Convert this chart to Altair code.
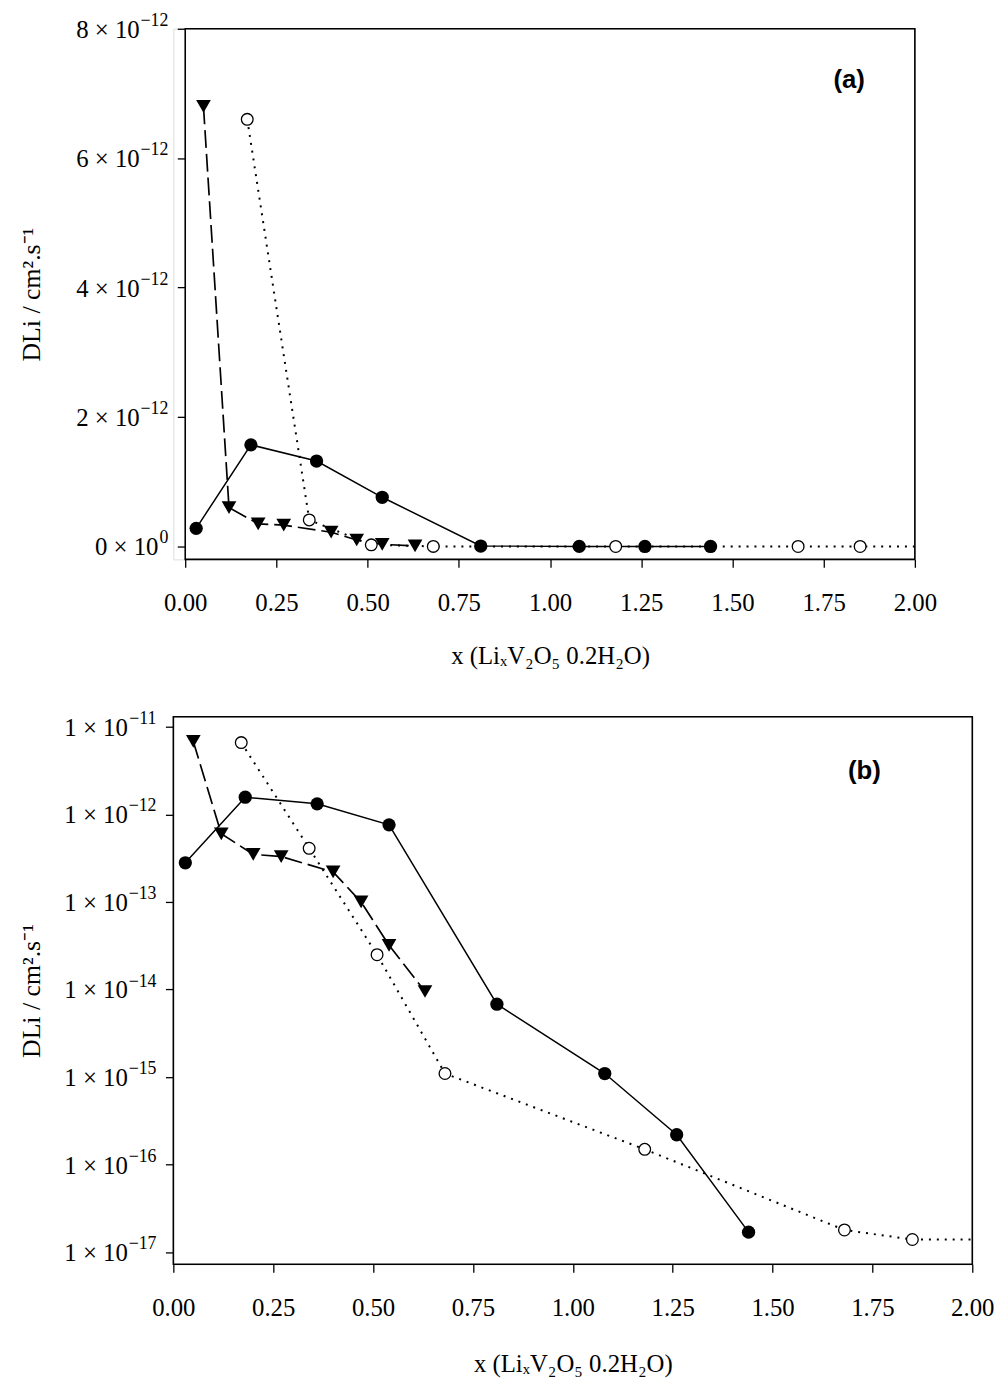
import altair as alt
import pandas as pd

# ---------------- data ----------------
X_FILLED = [0.03, 0.18, 0.36, 0.54, 0.81, 1.08, 1.26, 1.44]
Y_FILLED = [2.8e-13, 1.57e-12, 1.32e-12, 7.6e-13, 6.8e-15, 1.1e-15, 2.2e-16, 1.7e-17]

X_TRI = [0.05, 0.12, 0.20, 0.27, 0.40, 0.47, 0.54, 0.63]
Y_TRI = [6.8e-12, 6.0e-13, 3.5e-13, 3.3e-13, 2.2e-13, 1.0e-13, 3.2e-14, 9.5e-15]

X_OPEN = [0.17, 0.34, 0.51, 0.68, 1.18, 1.68, 1.85]
Y_OPEN = [6.6e-12, 4.1e-13, 2.5e-14, 1.1e-15, 1.5e-16, 1.8e-17, 1.4e-17]
# dotted line continues to the frame edge (no marker)
X_OPEN_END = [2.0]
Y_OPEN_END = [1.4e-17]

X_TICKS = [0, 0.25, 0.5, 0.75, 1.0, 1.25, 1.5, 1.75, 2.0]

A_Y_TICKS = [0, 2e-12, 4e-12, 6e-12, 8e-12]
A_Y_MAIN = ["0 × 10", "2 × 10", "4 × 10", "6 × 10", "8 × 10"]
A_Y_SUP = ["0", "−12", "−12", "−12", "−12"]

B_Y_TICKS = [1e-11, 1e-12, 1e-13, 1e-14, 1e-15, 1e-16, 1e-17]
B_Y_MAIN = ["1 × 10"] * 7
B_Y_SUP = ["−11", "−12", "−13", "−14", "−15", "−16", "−17"]

Y_TITLE = "DLi / cm².s⁻¹"
X_TITLE = "x (LiₓV₂O₅ 0.2H₂O)"

A_X_DOMAIN = [-0.0326, 2.0]
A_Y_DOMAIN = [-0.2e-12, 8e-12]
B_X_DOMAIN = [0.0, 2.0]
B_Y_DOMAIN = [7.3e-18, 1.3e-11]

SERIF = "Liberation Serif"
LABEL_FS = 25
SUP_FS = 18
TICK = 8
GAP = 9


def sup_width(s):
    return (0.564 * s.count("−") + 0.5 * (len(s) - s.count("−"))) * SUP_FS


filled = pd.DataFrame({"x": X_FILLED, "y": Y_FILLED})
tri = pd.DataFrame({"x": X_TRI, "y": Y_TRI})
opn = pd.DataFrame({"x": X_OPEN, "y": Y_OPEN})
opn_line = pd.DataFrame({"x": X_OPEN + X_OPEN_END, "y": Y_OPEN + Y_OPEN_END})


def panel(xdom, ydom, log, width, height, yticks, ymains, ysups, axis_px,
          ytitle_x, xtitle_x, xtitle_y, letter, letter_xy):
    xs = alt.Scale(domain=xdom, nice=False, zero=False)
    if log:
        ys = alt.Scale(type="log", domain=ydom, nice=False)
    else:
        ys = alt.Scale(domain=ydom, nice=False, zero=False)

    xaxis = alt.Axis(values=X_TICKS, format=".2f", title=X_TITLE, domain=False,
                     grid=False, tickSize=TICK, tickWidth=1.3, tickColor="black",
                     labelFont=SERIF, labelFontSize=LABEL_FS, labelColor="black",
                     labelPadding=24, labelFlush=False,
                     titleFont=SERIF, titleFontSize=25, titleFontWeight="normal",
                     titleColor="black", titleX=xtitle_x, titleY=xtitle_y,
                     titleAlign="center", titleBaseline="middle")
    yaxis = alt.Axis(values=yticks, labels=False,
                     title=Y_TITLE, domain=False, grid=False, tickSize=TICK,
                     tickWidth=1.3, tickColor="black", offset=-axis_px,
                     titleFont=SERIF, titleFontSize=26, titleFontWeight="normal",
                     titleColor="black", titleX=ytitle_x, titleAngle=270,
                     titleAlign="center", titleBaseline="middle")

    x = alt.X("x:Q", scale=xs, axis=xaxis)
    y = alt.Y("y:Q", scale=ys, axis=yaxis)
    x_n = alt.X("x:Q", scale=xs)
    y_n = alt.Y("y:Q", scale=ys)

    frame_df = pd.DataFrame({"x": [0.0], "x2": [2.0],
                             "y": [ydom[0]], "y2": [ydom[1]]})
    frame = alt.Chart(frame_df).mark_rect(
        fill="white", fillOpacity=0, stroke="black", strokeWidth=1.6
    ).encode(x=x, x2="x2:Q", y=y, y2="y2:Q")

    # tick labels: "n × 10" plus a raised exponent, right-aligned as a unit
    label_right = axis_px - TICK - GAP
    sup_df = pd.DataFrame({"y": yticks, "s": ysups})
    layers = [frame]
    layers.append(alt.Chart(sup_df).mark_text(
        font=SERIF, fontSize=SUP_FS, align="right", baseline="middle", dy=-8,
        color="black"
    ).encode(x=alt.value(label_right), y=y_n, text="s:N"))
    groups = {}
    for t, m, s in zip(yticks, ymains, ysups):
        groups.setdefault(round(sup_width(s)), []).append((t, m))
    for w, items in groups.items():
        mdf = pd.DataFrame({"y": [i[0] for i in items], "m": [i[1] for i in items]})
        layers.append(alt.Chart(mdf).mark_text(
            font=SERIF, fontSize=LABEL_FS, align="right", baseline="middle", dy=1,
            color="black"
        ).encode(x=alt.value(label_right - w - 1), y=y_n, text="m:N"))

    l_filled = alt.Chart(filled).mark_line(color="black", strokeWidth=1.5).encode(x=x_n, y=y_n)
    l_tri = alt.Chart(tri).mark_line(color="black", strokeWidth=1.7,
                                     strokeDash=[18, 6]).encode(x=x_n, y=y_n)
    l_open = alt.Chart(opn_line).mark_line(color="black", strokeWidth=2,
                                           strokeDash=[2, 6]).encode(x=x_n, y=y_n)

    p_filled = alt.Chart(filled).mark_point(shape="circle", filled=True, color="black",
                                            size=180, opacity=1).encode(x=x_n, y=y_n)
    p_tri = alt.Chart(tri).mark_point(shape="triangle-down", filled=True, color="black",
                                      size=220, opacity=1).encode(x=x_n, y=y_n)
    p_open = alt.Chart(opn).mark_point(shape="circle", filled=True, fill="white",
                                       stroke="black", strokeWidth=1.3, size=140,
                                       opacity=1).encode(x=x_n, y=y_n)

    lab_df = pd.DataFrame({"x": [letter_xy[0]], "y": [letter_xy[1]], "t": [letter]})
    lab = alt.Chart(lab_df).mark_text(font="Liberation Sans", fontSize=26,
                                      fontWeight="bold", color="black").encode(
        x=x_n, y=y_n, text="t:N")

    layers += [l_open, l_tri, l_filled, p_open, p_tri, p_filled, lab]
    return alt.layer(*layers).properties(width=width, height=height)


A = panel(A_X_DOMAIN, A_Y_DOMAIN, False, 749, 536, A_Y_TICKS, A_Y_MAIN, A_Y_SUP, 12,
          -155, 380.5, 97, "(a)", (1.82, 7.2e-12))
B = panel(B_X_DOMAIN, B_Y_DOMAIN, True, 807, 553, B_Y_TICKS, B_Y_MAIN, B_Y_SUP, 0,
          -143, 403.5, 100, "(b)", (1.73, 3.1e-12))

chart = alt.vconcat(A, B, spacing=40).properties(
    padding={"top": -4, "left": 10, "right": 5, "bottom": 5}
).configure_view(strokeWidth=0).configure(background="white")

chart.save("out.html", embed_options={"renderer": "svg", "actions": False})
